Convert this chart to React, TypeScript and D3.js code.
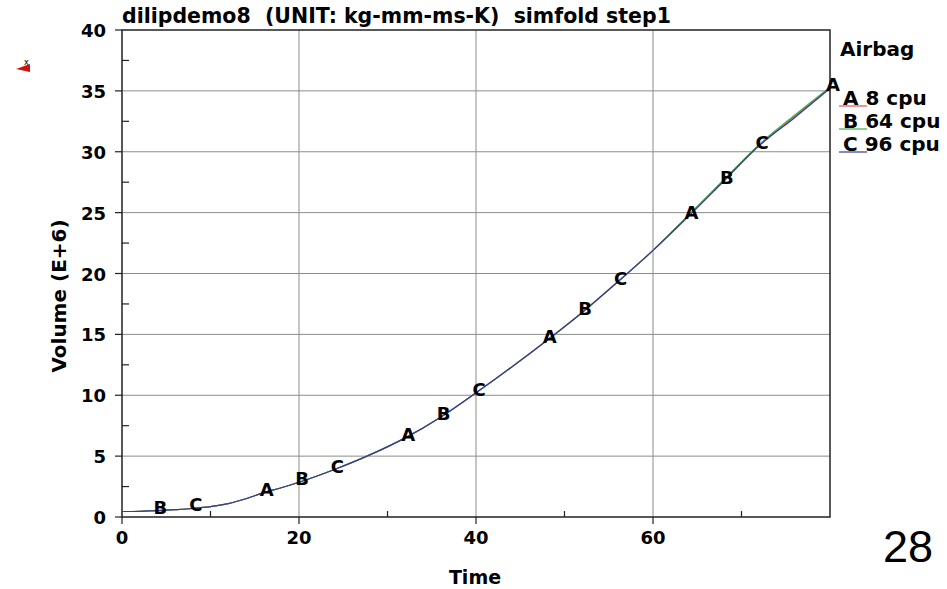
import React, { useEffect, useRef } from "react";
import * as d3 from "d3";

// time samples and volume (E+6) for the three runs
const times = [0, 2, 4, 6, 8, 10, 12, 14, 16, 18, 20, 24, 28, 32, 36, 40, 44, 48, 52, 56, 60, 64, 68, 72, 76, 80];
const volA = [0.45, 0.47, 0.52, 0.6, 0.7, 0.85, 1.1, 1.5, 2.0, 2.4, 2.85, 3.9, 5.1, 6.5, 8.2, 10.2, 12.3, 14.5, 16.8, 19.3, 21.9, 24.7, 27.6, 30.5, 32.9, 35.3];
const volB = [0.45, 0.47, 0.52, 0.6, 0.7, 0.85, 1.1, 1.5, 2.0, 2.4, 2.85, 3.9, 5.1, 6.5, 8.2, 10.2, 12.3, 14.5, 16.8, 19.3, 21.9, 24.8, 27.7, 30.6, 33.0, 35.3];
const volC = [0.45, 0.47, 0.52, 0.6, 0.7, 0.85, 1.1, 1.5, 2.0, 2.4, 2.85, 3.9, 5.1, 6.5, 8.2, 10.2, 12.3, 14.5, 16.8, 19.3, 21.9, 24.7, 27.6, 30.5, 32.8, 35.2];

// curve labels along the line
const markerTimes = [4, 8, 16, 20, 24, 32, 36, 40, 48, 52, 56, 64, 68, 72, 80];
const markerNames = ["B", "C", "A", "B", "C", "A", "B", "C", "A", "B", "C", "A", "B", "C", "A"];

const legendKeys = ["A", "B", "C"];
const legendLabels = ["8 cpu", "64 cpu", "96 cpu"];
const legendColors = ["#d9534f", "#3cb043", "#3a3a9a"];

const xTicks = [0, 20, 40, 60];
const xMinor = [10, 30, 50, 70];
const yTicks = [0, 5, 10, 15, 20, 25, 30, 35, 40];
const yMinor = [2.5, 7.5, 12.5, 17.5, 22.5, 27.5, 32.5, 37.5];

function App() {
  const ref = useRef<SVGSVGElement>(null);

  useEffect(() => {
    const svg = d3.select(ref.current);
    svg.selectAll("*").remove();

    const font = "DejaVu Sans, sans-serif";
    const left = 122, right = 830, top = 30, bottom = 517;

    const x = d3.scaleLinear().domain([0, 80]).range([left, right]);
    const y = d3.scaleLinear().domain([0, 40]).range([bottom, top]);

    // grid
    const grid = svg.append("g").attr("stroke", "#8c8c8c").attr("stroke-width", 1);
    xTicks.slice(1).forEach(t => {
      grid.append("line").attr("x1", x(t)).attr("x2", x(t)).attr("y1", top).attr("y2", bottom);
    });
    yTicks.slice(1, -1).forEach(t => {
      grid.append("line").attr("x1", left).attr("x2", right).attr("y1", y(t)).attr("y2", y(t));
    });

    // frame
    svg.append("rect")
      .attr("x", left).attr("y", top)
      .attr("width", right - left).attr("height", bottom - top)
      .attr("fill", "none").attr("stroke", "#222").attr("stroke-width", 1.5);

    // ticks
    const ticks = svg.append("g").attr("stroke", "#222").attr("stroke-width", 1.2);
    yTicks.forEach(t => {
      ticks.append("line").attr("x1", left - 7).attr("x2", left).attr("y1", y(t)).attr("y2", y(t));
    });
    yMinor.forEach(t => {
      ticks.append("line").attr("x1", left).attr("x2", left + 7).attr("y1", y(t)).attr("y2", y(t));
    });
    xTicks.forEach(t => {
      ticks.append("line").attr("x1", x(t)).attr("x2", x(t)).attr("y1", bottom).attr("y2", bottom + 7);
    });
    xMinor.forEach(t => {
      ticks.append("line").attr("x1", x(t)).attr("x2", x(t)).attr("y1", bottom - 6).attr("y2", bottom);
    });

    // tick labels
    yTicks.forEach(t => {
      svg.append("text")
        .attr("x", left - 16).attr("y", y(t) + 7)
        .attr("text-anchor", "end")
        .attr("font-family", font).attr("font-weight", "bold").attr("font-size", 18)
        .text(t);
    });
    xTicks.forEach(t => {
      svg.append("text")
        .attr("x", x(t)).attr("y", bottom + 27)
        .attr("text-anchor", "middle")
        .attr("font-family", font).attr("font-weight", "bold").attr("font-size", 18)
        .text(t);
    });

    // axis titles
    svg.append("text")
      .attr("x", x(40) - 1).attr("y", 584)
      .attr("text-anchor", "middle")
      .attr("font-family", font).attr("font-weight", "bold").attr("font-size", 19)
      .text("Time");
    svg.append("text")
      .attr("transform", "translate(66,296) rotate(-90)")
      .attr("text-anchor", "middle")
      .attr("font-family", font).attr("font-weight", "bold").attr("font-size", 20)
      .text("Volume (E+6)");

    // title
    svg.append("text")
      .attr("x", 122).attr("y", 23)
      .attr("font-family", font).attr("font-weight", "bold").attr("font-size", 20.5)
      .attr("xml:space", "preserve")
      .style("white-space", "pre")
      .text("dilipdemo8  (UNIT: kg-mm-ms-K)  simfold step1");

    // curves
    const line = d3.line<number>()
      .x((_, i) => x(times[i]))
      .y(d => y(d))
      .curve(d3.curveMonotoneX);
    [volA, volB, volC].forEach((vals, i) => {
      svg.append("path")
        .attr("d", line(vals))
        .attr("fill", "none")
        .attr("stroke", legendColors[i])
        .attr("stroke-width", 1.2);
    });

    // markers on the curve
    const interp = d3.scaleLinear().domain(times).range(volC);
    markerTimes.forEach((t, i) => {
      svg.append("text")
        .attr("x", x(t) + 3).attr("y", y(interp(t)) + 3)
        .attr("text-anchor", "middle")
        .attr("font-family", font).attr("font-weight", "bold").attr("font-size", 18)
        .text(markerNames[i]);
    });

    // legend
    svg.append("text")
      .attr("x", 840).attr("y", 56)
      .attr("font-family", font).attr("font-weight", "bold").attr("font-size", 20)
      .text("Airbag");
    legendKeys.forEach((k, i) => {
      const by = 105 + i * 23;
      svg.append("line")
        .attr("x1", 839).attr("x2", 867).attr("y1", by + 1).attr("y2", by + 1)
        .attr("stroke", legendColors[i]).attr("stroke-width", 1.2);
      svg.append("text")
        .attr("x", 843).attr("y", by)
        .attr("font-family", font).attr("font-weight", "bold").attr("font-size", 20)
        .attr("xml:space", "preserve")
        .style("white-space", "pre")
        .text(`${k} ${legendLabels[i]}`);
    });

    // small axis triad mark at top-left
    svg.append("polygon")
      .attr("points", "16,69 30,64 30,72")
      .attr("fill", "#d01010");
    svg.append("text")
      .attr("x", 24).attr("y", 65)
      .attr("font-family", font).attr("font-size", 8)
      .text("x");

    // page number
    svg.append("text")
      .attr("x", 933).attr("y", 562)
      .attr("text-anchor", "end")
      .attr("font-family", "Liberation Sans, Arial, sans-serif").attr("font-size", 45)
      .text("28");
  }, []);

  return (
    <svg
      ref={ref}
      width={947}
      height={589}
      style={{ position: "absolute", left: 0, top: 0, background: "#fff" }}
    />
  );
}

export default App;
